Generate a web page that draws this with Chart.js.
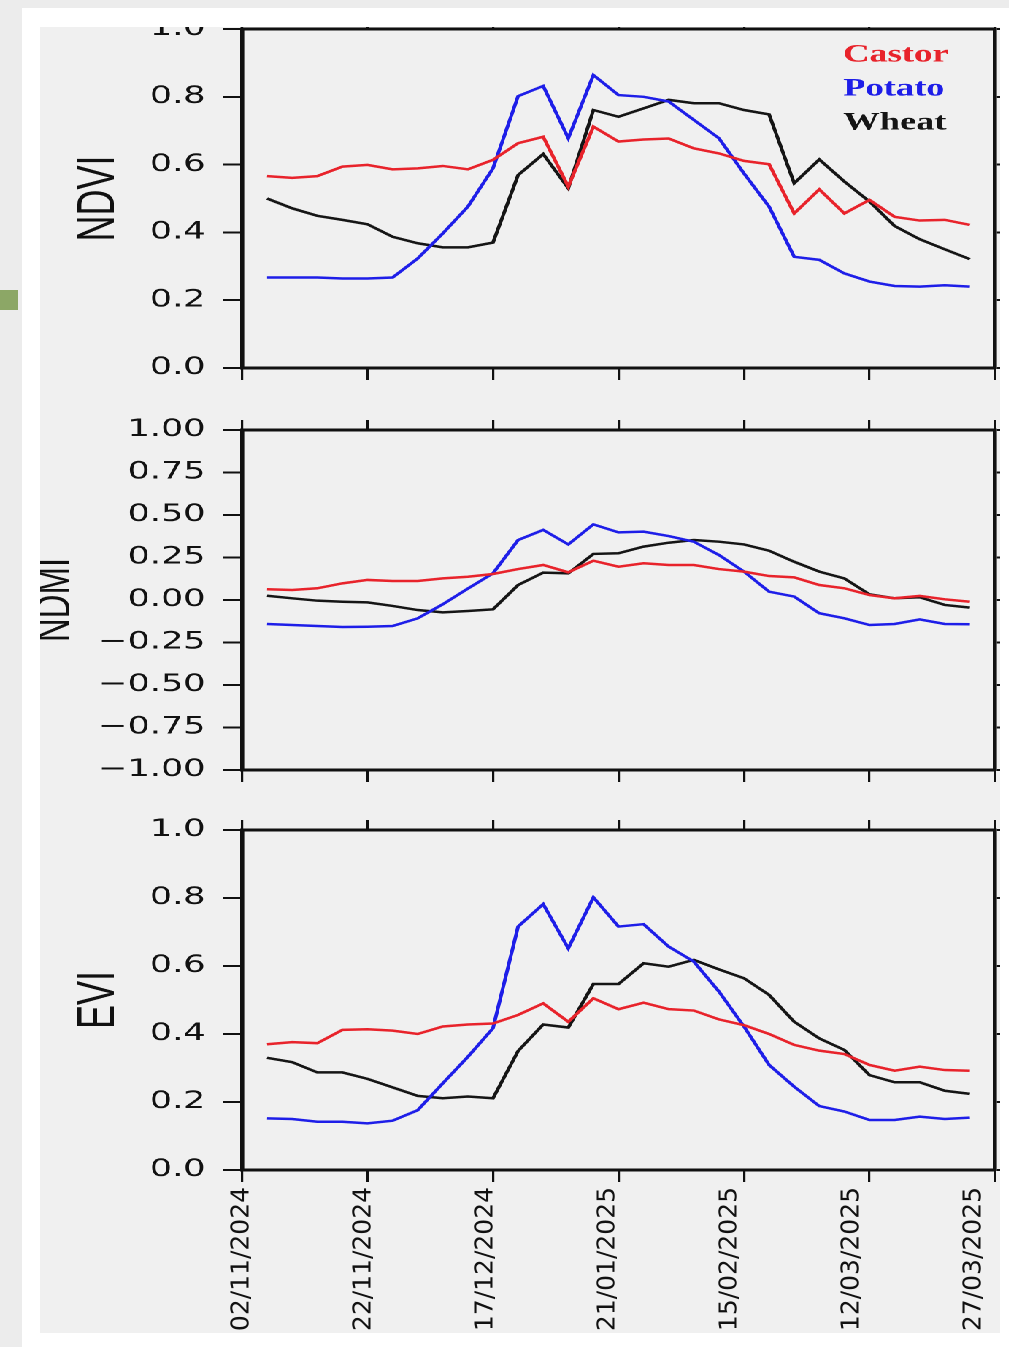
<!DOCTYPE html>
<html>
<head>
<meta charset="UTF-8">
<title>NDVI / NDMI / EVI</title>
<script src="https://cdn.jsdelivr.net/npm/chart.js@4.4.1/dist/chart.umd.min.js"></script>
<style>
  *{margin:0;padding:0;}
  body{width:1009px;height:1347px;background:#ececec;position:relative;overflow:hidden;}
  #card{position:absolute;left:22px;top:8px;width:987px;height:1339px;background:#fff;}
  #mark{position:absolute;left:0;top:290px;width:18px;height:20px;background:#8ca766;}
  #inner{position:absolute;left:40px;top:27px;width:960px;height:1306px;background:#f0f0f0;overflow:hidden;}
  /* the original figure is stretched sideways, so the panels are drawn narrow and scaled */
  #stretch{position:absolute;left:-40px;top:-27px;width:691px;height:1347px;transform:scaleX(1.46);transform-origin:0 0;}
  #stretch canvas{position:absolute;left:0;}
  #dates{position:absolute;left:-40px;top:1133px;}
</style>
</head>
<body>
<div id="card"></div>
<div id="mark"></div>
<div id="inner">
  <div id="stretch">
    <canvas id="c1" width="691" height="400" style="top:0px"></canvas>
    <canvas id="c2" width="691" height="400" style="top:400px"></canvas>
    <canvas id="c3" width="691" height="400" style="top:800px"></canvas>
  </div>
  <canvas id="dates" width="1009" height="187"></canvas>
</div>
<script>
// x axis: one step per acquisition, labelled every 5 steps
var tickPositions = [0, 5, 10, 15, 20, 25, 30];
var tickDates = ['02/11/2024', '22/11/2024', '17/12/2024', '21/01/2025', '15/02/2025', '12/03/2025', '27/03/2025'];

var seriesNames = ['Castor', 'Potato', 'Wheat'];
var seriesColors = ['#e8232b', '#1e1ee8', '#151515'];

var ndviTickLabels = ['0.0', '0.2', '0.4', '0.6', '0.8', '1.0'];
var ndmiTickLabels = ['\u22121.00', '\u22120.75', '\u22120.50', '\u22120.25', '0.00', '0.25', '0.50', '0.75', '1.00'];
var eviTickLabels = ['0.0', '0.2', '0.4', '0.6', '0.8', '1.0'];

var ndviCastor = [0.566, 0.561, 0.566, 0.594, 0.599, 0.586, 0.589, 0.596, 0.586, 0.614, 0.663, 0.682, 0.535, 0.712, 0.668,
                  0.674, 0.677, 0.648, 0.633, 0.611, 0.601, 0.456, 0.527, 0.456, 0.496, 0.446, 0.435, 0.437, 0.422];
var ndviPotato = [0.267, 0.267, 0.267, 0.264, 0.264, 0.267, 0.323, 0.397, 0.476, 0.589, 0.802, 0.832, 0.678, 0.864, 0.805,
                  0.800, 0.786, 0.732, 0.678, 0.574, 0.476, 0.328, 0.319, 0.279, 0.255, 0.242, 0.240, 0.244, 0.240];
var ndviWheat  = [0.500, 0.471, 0.449, 0.437, 0.424, 0.387, 0.368, 0.356, 0.356, 0.370, 0.569, 0.631, 0.530, 0.761, 0.741,
                  0.766, 0.791, 0.781, 0.781, 0.761, 0.748, 0.545, 0.615, 0.550, 0.491, 0.419, 0.380, 0.350, 0.321];

var ndmiCastor = [0.063, 0.059, 0.069, 0.098, 0.118, 0.112, 0.112, 0.127, 0.137, 0.153, 0.182, 0.206, 0.163, 0.231, 0.196,
                  0.216, 0.206, 0.206, 0.182, 0.167, 0.141, 0.133, 0.088, 0.069, 0.029, 0.010, 0.024, 0.004, -0.010];
var ndmiPotato = [-0.141, -0.147, -0.153, -0.159, -0.157, -0.153, -0.108, -0.025, 0.067, 0.157, 0.353, 0.412, 0.327, 0.445, 0.398,
                  0.402, 0.376, 0.343, 0.265, 0.167, 0.049, 0.020, -0.078, -0.108, -0.147, -0.141, -0.114, -0.141, -0.143];
var ndmiWheat  = [0.025, 0.010, -0.004, -0.010, -0.014, -0.035, -0.059, -0.073, -0.065, -0.055, 0.088, 0.161, 0.157, 0.271, 0.275,
                  0.314, 0.337, 0.353, 0.343, 0.327, 0.290, 0.225, 0.167, 0.127, 0.033, 0.010, 0.016, -0.029, -0.045];

var eviCastor = [0.370, 0.376, 0.373, 0.412, 0.414, 0.410, 0.400, 0.422, 0.428, 0.431, 0.456, 0.490, 0.436, 0.505, 0.473,
                 0.492, 0.473, 0.469, 0.443, 0.426, 0.400, 0.368, 0.351, 0.341, 0.309, 0.292, 0.304, 0.294, 0.292];
var eviPotato = [0.152, 0.150, 0.142, 0.142, 0.137, 0.145, 0.176, 0.255, 0.333, 0.417, 0.716, 0.782, 0.652, 0.802, 0.716,
                 0.723, 0.657, 0.613, 0.525, 0.422, 0.309, 0.245, 0.188, 0.172, 0.147, 0.147, 0.157, 0.150, 0.154];
var eviWheat  = [0.330, 0.317, 0.287, 0.287, 0.268, 0.243, 0.218, 0.211, 0.216, 0.211, 0.350, 0.428, 0.419, 0.547, 0.547,
                 0.608, 0.598, 0.618, 0.590, 0.564, 0.515, 0.436, 0.387, 0.353, 0.279, 0.258, 0.258, 0.233, 0.224];

// layout (inner, unstretched units of the panel canvases)
var W = 691, H = 400;
var LEFT = 165.75, RIGHT = 681.5;
var frame = '#111';
var legendFont = 25, legendPad = 9;

function toPoints(values){
  return values.map(function(v, i){ return {x: i + 1, y: v}; });
}

// puts the legend at the top right, inside the frame
var legendPlacer = {
  id: 'legendPlacer',
  afterLayout: function(chart){
    var lg = chart.legend;
    lg.left = 577.5 - legendPad - legendFont / 2;
    lg.top = 55 - legendPad - legendFont / 2;
    lg.right = chart.chartArea.right;
    lg.bottom = chart.chartArea.bottom;
  }
};

function makePanel(id, top, bottom, yMin, yMax, yStep, yLabels, title, titleSize, titlePad, values, showLegend){
  var datasets = values.map(function(vals, i){
    return {
      label: seriesNames[i],
      data: toPoints(vals),
      borderColor: seriesColors[i],
      borderWidth: 2.5,
      pointRadius: 0,
      tension: 0,
      fill: false
    };
  });
  var legend = {display: false};
  if(showLegend){
    legend = {
      display: true,
      position: 'chartArea',
      align: 'start',
      labels: {
        boxWidth: 0,
        boxHeight: 0,
        padding: legendPad,
        font: {family: 'Liberation Serif', size: legendFont, weight: 'bold'},
        generateLabels: function(chart){
          return chart.data.datasets.map(function(ds, i){
            return {text: ds.label, fontColor: ds.borderColor, fillStyle: 'rgba(0,0,0,0)',
                    strokeStyle: 'rgba(0,0,0,0)', lineWidth: 0, hidden: false, datasetIndex: i};
          });
        }
      }
    };
  }
  return new Chart(document.getElementById(id), {
    type: 'line',
    data: {datasets: datasets},
    options: {
      responsive: false,
      animation: false,
      events: [],
      devicePixelRatio: 2,
      layout: {padding: 0, autoPadding: false},
      plugins: {legend: legend, tooltip: {enabled: false}},
      scales: {
        x: {
          type: 'linear', position: 'bottom', min: 0, max: 30,
          ticks: {display: false, stepSize: 5},
          grid: {drawOnChartArea: false, color: frame, lineWidth: 1.6, tickLength: 12},
          border: {color: frame, width: 3},
          afterFit: function(s){ s.height = H - bottom; }
        },
        xTop: {
          type: 'linear', position: 'top', min: 0, max: 30,
          ticks: {display: false, stepSize: 5},
          grid: {drawOnChartArea: false, color: frame, lineWidth: 1.6, tickLength: 10},
          border: {color: frame, width: 3},
          afterFit: function(s){ s.height = top; }
        },
        y: {
          position: 'left', min: yMin, max: yMax,
          ticks: {
            stepSize: yStep, padding: 12, color: '#111',
            font: {family: 'DejaVu Sans', size: 24},
            callback: function(v, i){ return yLabels[i]; }
          },
          grid: {drawOnChartArea: false, color: frame, lineWidth: 2, tickLength: 13},
          border: {color: frame, width: 2.8},
          title: {
            display: true, text: title, color: '#111',
            font: {family: 'Liberation Sans', size: titleSize, lineHeight: 1},
            padding: {top: titlePad, bottom: 0}
          },
          afterFit: function(s){ s.width = LEFT; }
        },
        yRight: {
          position: 'right', min: yMin, max: yMax,
          ticks: {display: false, stepSize: yStep},
          grid: {drawOnChartArea: false, color: frame, lineWidth: 2, tickLength: 4},
          border: {color: frame, width: 2.8},
          afterFit: function(s){ s.width = W - RIGHT; }
        }
      }
    },
    plugins: showLegend ? [legendPlacer] : []
  });
}

makePanel('c1', 29, 368, 0, 1, 0.2, ndviTickLabels, 'NDVI', 36, 50, [ndviCastor, ndviPotato, ndviWheat], true);
makePanel('c2', 30, 370, -1, 1, 0.25, ndmiTickLabels, 'NDMI', 33, 22, [ndmiCastor, ndmiPotato, ndmiWheat], false);
makePanel('c3', 30, 370, 0, 1, 0.2, eviTickLabels, 'EVI', 36, 50, [eviCastor, eviPotato, eviWheat], false);

// date labels under the last panel, drawn unstretched on the same 0..30 scale
new Chart(document.getElementById('dates'), {
  type: 'line',
  data: {datasets: []},
  options: {
    responsive: false,
    animation: false,
    events: [],
    devicePixelRatio: 2,
    layout: {padding: {left: 242, right: 14, top: 0, bottom: 0}, autoPadding: false},
    plugins: {legend: {display: false}, tooltip: {enabled: false}},
    scales: {
      x: {
        type: 'linear', position: 'bottom', min: 0, max: 30,
        afterBuildTicks: function(s){ s.ticks = tickPositions.map(function(v){ return {value: v}; }); },
        ticks: {
          autoSkip: false, maxRotation: 90, minRotation: 90, padding: 5, color: '#111',
          font: {family: 'DejaVu Sans', size: 25},
          callback: function(v, i){ return tickDates[i]; }
        },
        grid: {drawOnChartArea: false, color: 'rgba(0,0,0,0)', tickLength: 12},
        border: {display: false},
        afterFit: function(s){ s.height = 177; }
      },
      y: {display: false, min: 0, max: 1}
    }
  }
});
</script>
</body>
</html>
